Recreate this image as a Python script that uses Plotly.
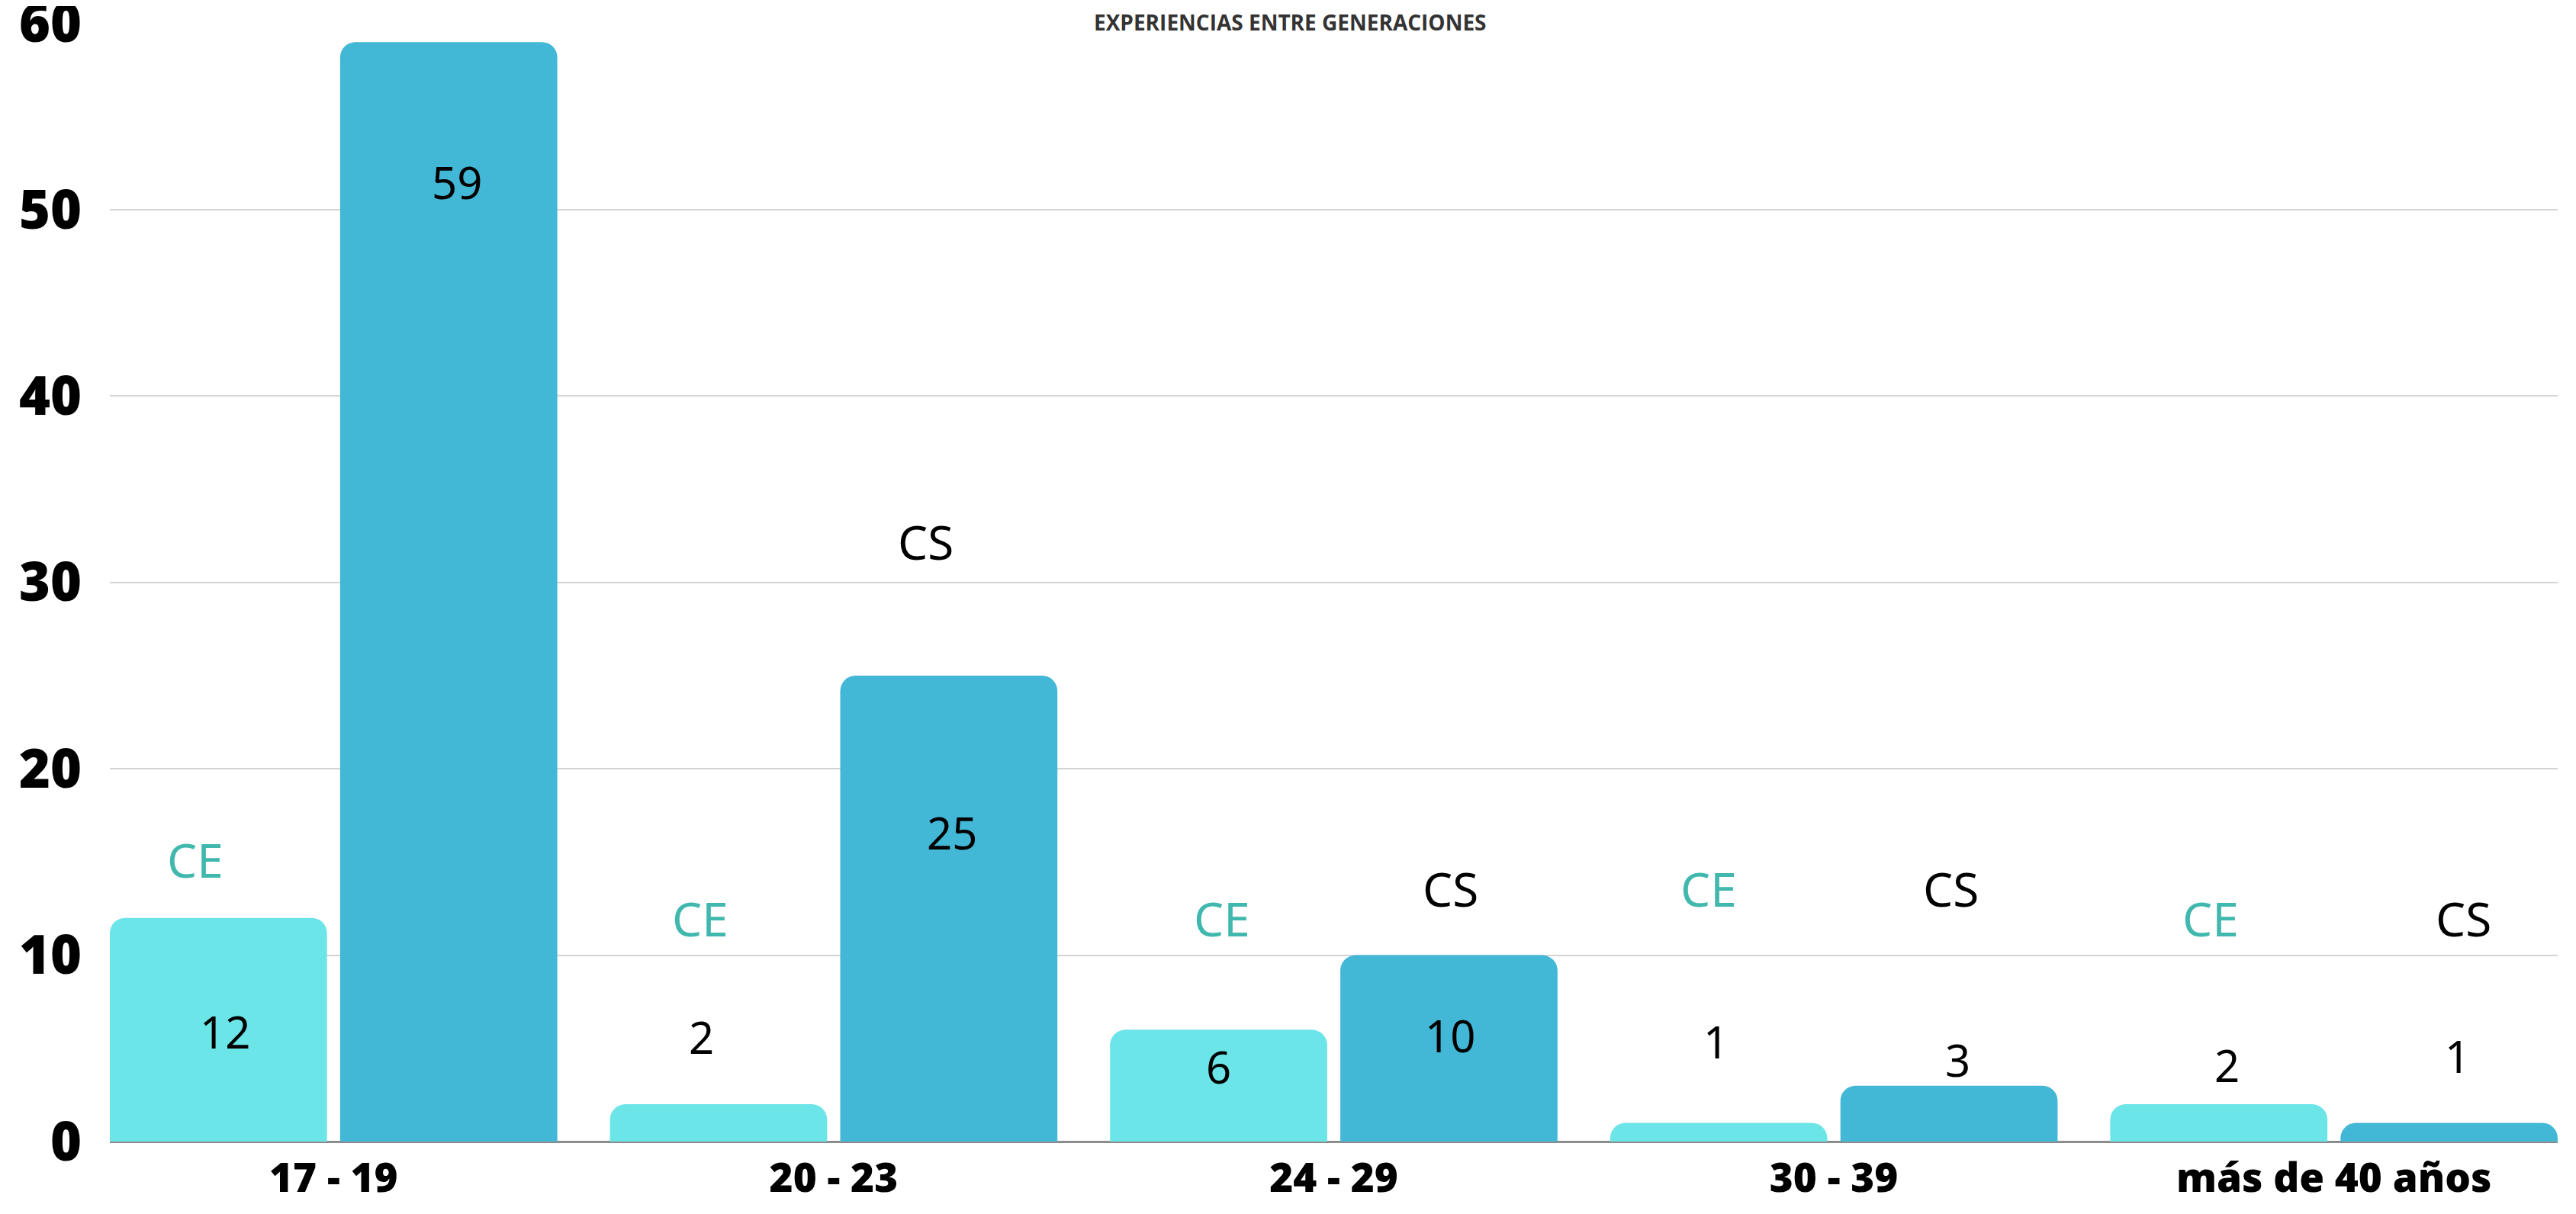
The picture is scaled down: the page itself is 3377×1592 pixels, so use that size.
import plotly.graph_objects as go

# ---- data ----
categories = ["17 - 19", "20 - 23", "24 - 29", "30 - 39", "más de 40 años"]
ce_values = [12, 2, 6, 1, 2]
cs_values = [59, 25, 10, 3, 1]
ce_name = "CE"
cs_name = "CS"
title_text = "EXPERIENCIAS ENTRE GENERACIONES"
y_ticks = [0, 10, 20, 30, 40, 50, 60]

# ---- label placement (data units / pixel shifts), kept apart from the data ----
ce_label_y = [15.15, 12.0, 12.0, 13.6, 12.0]
ce_value_y = [5.9, 5.64, 4.05, 5.4, 4.1]
cs_label_y = [None, 32.2, 13.6, 13.6, 12.0]
cs_value_y = [51.5, 16.6, 5.7, 4.4, 4.6]
ce_label_dx = [-30, -24, 4, -13, -11]
ce_value_dx = [9, -22, 0, -4, 11]
cs_label_dx = [0, -30, 2, 2, 19]
cs_value_dx = [11, 4, 2, 11, 11]

CE_COLOR = "#6ce5e8"
CS_COLOR = "#42b7d6"
CE_TEXT = "#41b8ad"

BARGAP = 0.079
BARGROUPGAP = 0.057

# the page body has an 8px default margin; size the figure to fit the window
W, H = 3377 - 16, 1592 - 16

fig = go.Figure()
fig.add_trace(go.Bar(x=categories, y=ce_values, name=ce_name,
                     marker=dict(color=CE_COLOR, line=dict(width=0))))
fig.add_trace(go.Bar(x=categories, y=cs_values, name=cs_name,
                     marker=dict(color=CS_COLOR, line=dict(width=0))))

slot = (1 - BARGAP) / 2
inset = slot * BARGROUPGAP / 2
half = 0.5 - BARGAP / 2 - inset

lab_font = dict(family="Noto Sans", size=62, color="black")
val_font = dict(family="Noto Sans", size=58, color="black")

ann = []
for i, cat in enumerate(categories):
    xc = i - slot / 2
    xs = i + slot / 2
    ann.append(dict(x=xc, y=ce_label_y[i], text=ce_name, xshift=ce_label_dx[i],
                    font=dict(family="Noto Sans", size=62, color=CE_TEXT)))
    ann.append(dict(x=xc, y=ce_value_y[i], text=str(ce_values[i]), xshift=ce_value_dx[i],
                    font=val_font))
    if cs_label_y[i] is not None:
        ann.append(dict(x=xs, y=cs_label_y[i], text=cs_name, xshift=cs_label_dx[i],
                        font=lab_font))
    ann.append(dict(x=xs, y=cs_value_y[i], text=str(cs_values[i]), xshift=cs_value_dx[i],
                    font=val_font))
for a in ann:
    a.update(xref="x", yref="y", showarrow=False, xanchor="center", yanchor="middle")

ann.append(dict(x=0.5, y=1, xref="paper", yref="paper", yshift=22, yanchor="top",
                xanchor="center", showarrow=False, text=title_text,
                font=dict(family="Open Sans", size=28, color="#333333", weight="bold"),
                xshift=-57))

fig.update_layout(
    width=W, height=H,
    margin=dict(l=136, r=16, t=22, b=87, autoexpand=False),
    paper_bgcolor="white", plot_bgcolor="white",
    barmode="group", bargap=BARGAP, bargroupgap=BARGROUPGAP,
    barcornerradius=20,
    showlegend=False,
    annotations=ann,
    xaxis=dict(
        range=[-half, len(categories) - 1 + half],
        showgrid=False, showline=False, ticks="", automargin=False,
        tickfont=dict(family="Open Sans", size=53, color="black", weight=800),
        ticklabelstandoff=12,
    ),
    yaxis=dict(
        range=[0, 60.03], tickvals=y_ticks, showgrid=True, automargin=False,
        gridcolor="#d4d4d4", gridwidth=2,
        zeroline=True, zerolinecolor="#8c8c8c", zerolinewidth=3,
        showline=False, ticks="",
        tickfont=dict(family="Open Sans", size=70, color="black", weight=800),
        ticklabelstandoff=36, ticklabeloverflow="allow",
    ),
)

fig.write_html("out.html")
